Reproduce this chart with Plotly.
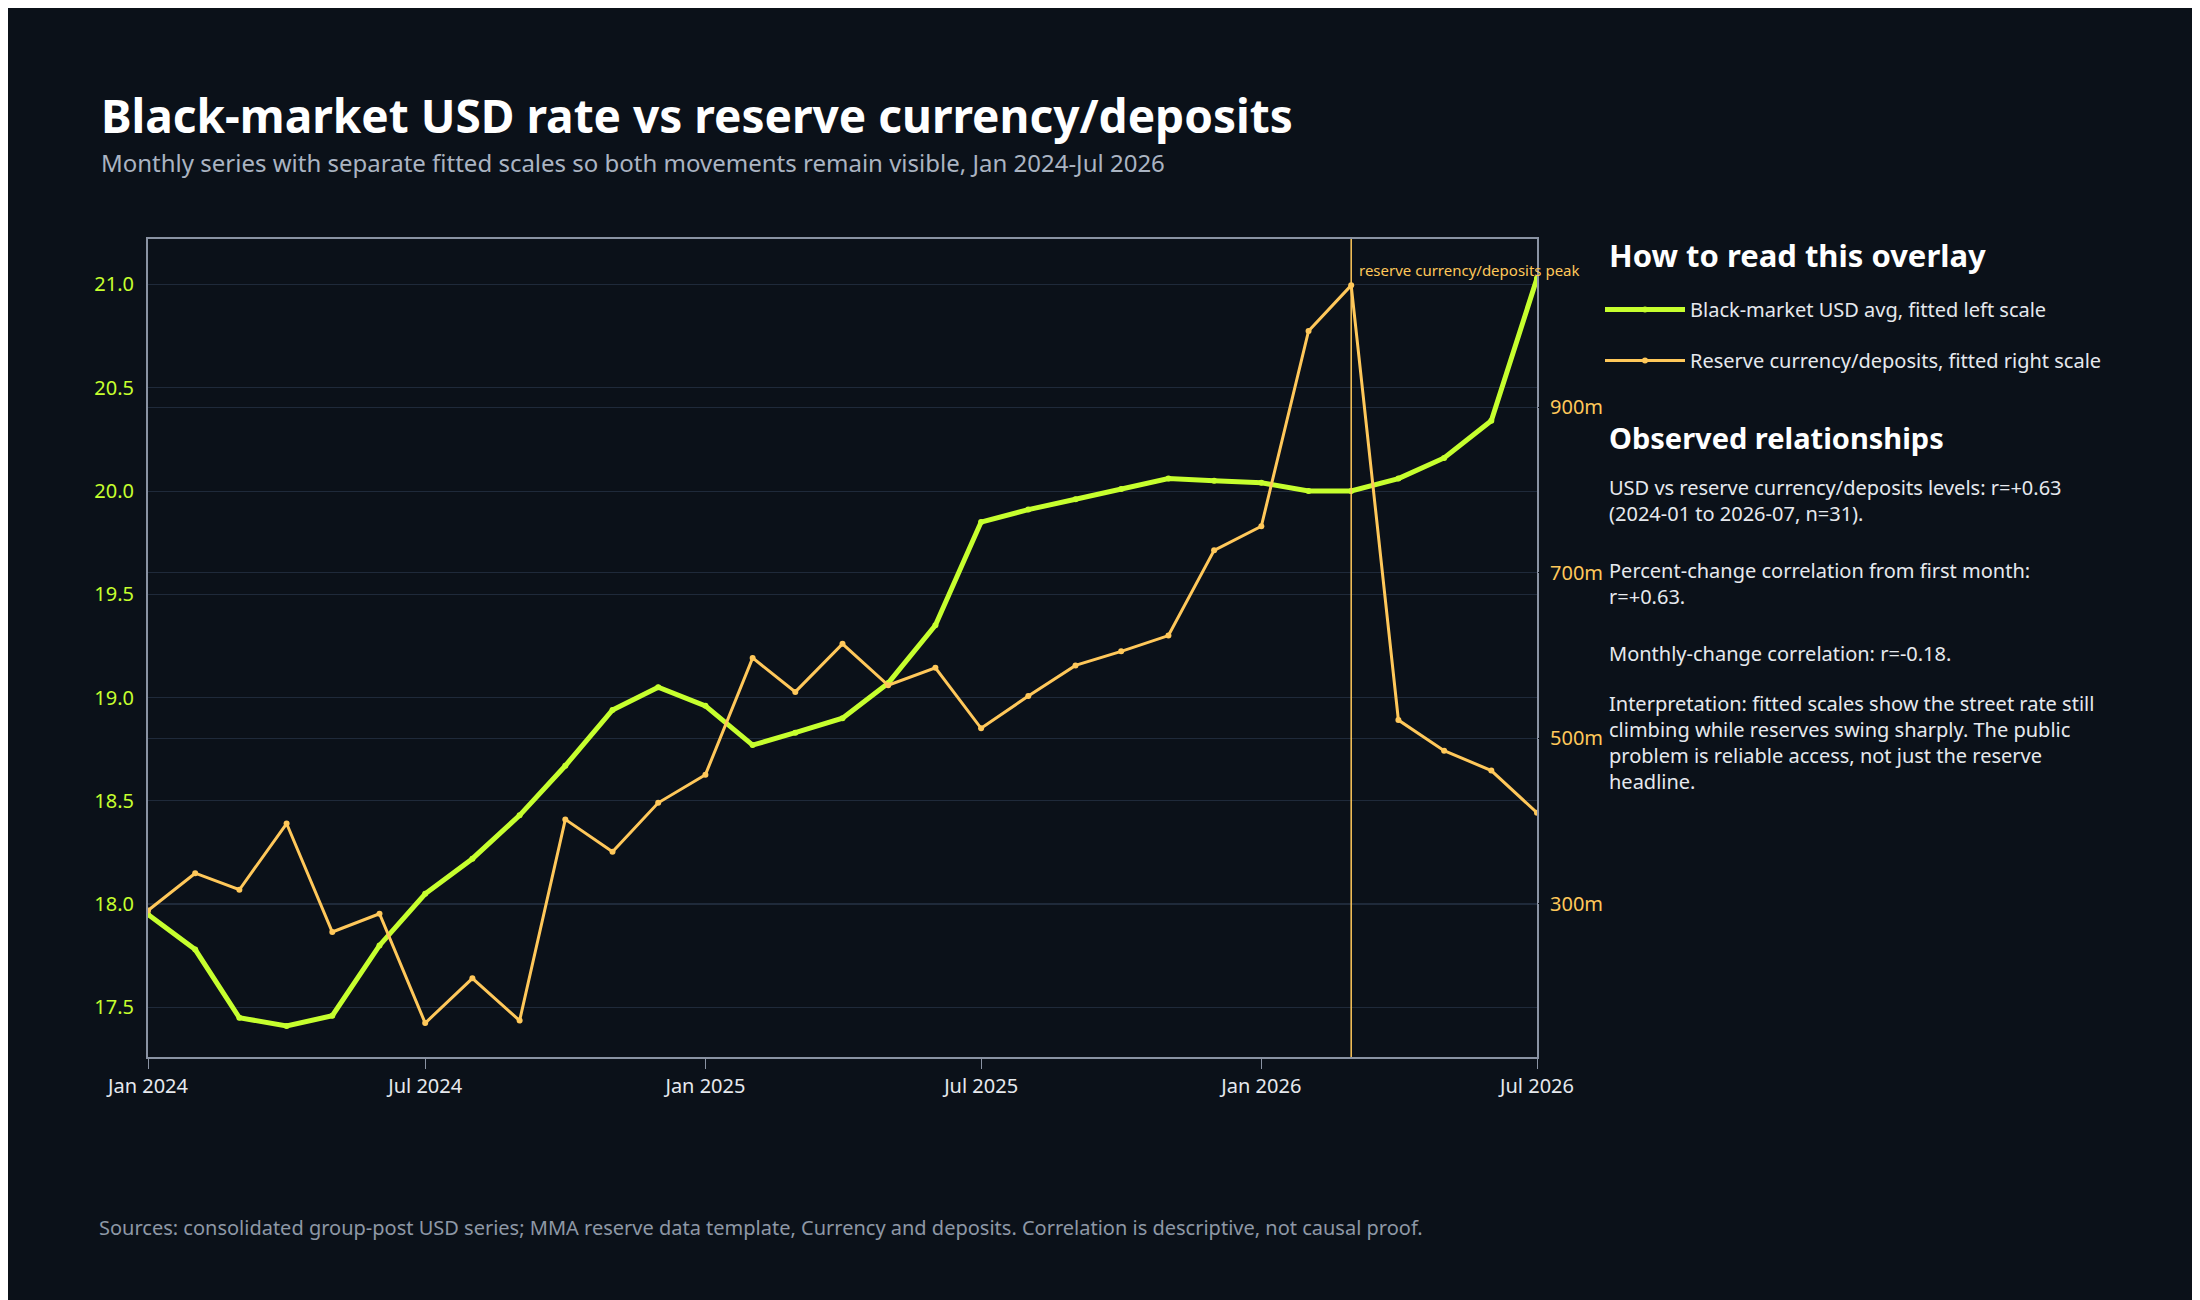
import plotly.graph_objects as go

months = [f"{y}-{m:02d}-01" for y in (2024, 2025, 2026) for m in range(1, 13)][:31]

usd_rate = [17.95, 17.78, 17.45, 17.41, 17.46, 17.80, 18.05, 18.22, 18.43, 18.67, 18.94, 19.05,
            18.96, 18.77, 18.83, 18.90, 19.07, 19.35, 19.85, 19.91, 19.96, 20.01, 20.06, 20.05,
            20.04, 20.00, 20.00, 20.06, 20.16, 20.34, 21.03]
reserves_m = [292, 337, 317, 397, 266, 288, 156, 210, 159, 402, 363, 422,
              456, 597, 556, 614, 564, 585, 512, 551, 588, 605, 624, 727,
              756, 992, 1047, 522, 485, 461, 410]

W, H = 2200, 1300
L, R, T, B = 140, 671, 231, 251
BG = "#0b1119"
GREEN = "#c6ff2e"
ORANGE = "#ffc85a"
TXT = "#e6e9ee"
FONT = "Noto Sans"


def px(x):
    return (x - L) / (W - L - R)


def py(y):
    return (H - B - y) / (H - T - B)


fig = go.Figure()
fig.add_trace(go.Scatter(
    x=months, y=usd_rate, mode="lines+markers", name="Black-market USD avg, fitted left scale",
    legendgroup="a", line=dict(color=GREEN, width=5), marker=dict(size=6, color=GREEN)))
fig.add_trace(go.Scatter(
    x=months, y=[v * 1e6 for v in reserves_m], mode="lines+markers", yaxis="y2",
    name="Reserve currency/deposits, fitted right scale", legendgroup="b",
    line=dict(color=ORANGE, width=3), marker=dict(size=6, color=ORANGE)))

peak = months[reserves_m.index(max(reserves_m))]
fig.add_shape(type="line", x0=peak, x1=peak, y0=0, y1=1, yref="paper",
              line=dict(color=ORANGE, width=1.5))

annotations = [
    dict(x=peak, y=py(262), xref="x", yref="paper", text="reserve currency/deposits peak",
         showarrow=False, xanchor="left", yanchor="middle", xshift=6,
         font=dict(size=15, color=ORANGE)),
    dict(x=px(91), y=py(74), text="<b>Black-market USD rate vs reserve currency/deposits</b>",
         font=dict(size=46, color="#ffffff")),
    dict(x=px(91), y=py(136),
         text="Monthly series with separate fitted scales so both movements remain visible, Jan 2024-Jul 2026",
         font=dict(size=24, color="#aab4c2")),
    dict(x=px(89), y=py(1204),
         text="Sources: consolidated group-post USD series; MMA reserve data template, Currency and deposits. Correlation is descriptive, not causal proof.",
         font=dict(size=20, color="#8e98a6")),
    dict(x=px(1599), y=py(224), text="<b>How to read this overlay</b>", font=dict(size=31, color="#ffffff")),
    dict(x=px(1599), y=py(408), text="<b>Observed relationships</b>", font=dict(size=29, color="#ffffff")),
    dict(x=px(1599), y=py(464),
         text="USD vs reserve currency/deposits levels: r=+0.63<br>(2024-01 to 2026-07, n=31).",
         font=dict(size=20, color=TXT)),
    dict(x=px(1599), y=py(547), text="Percent-change correlation from first month:<br>r=+0.63.",
         font=dict(size=20, color=TXT)),
    dict(x=px(1599), y=py(630), text="Monthly-change correlation: r=-0.18.", font=dict(size=20, color=TXT)),
    dict(x=px(1599), y=py(680),
         text="Interpretation: fitted scales show the street rate still<br>climbing while reserves swing sharply. The public<br>problem is reliable access, not just the reserve<br>headline.",
         font=dict(size=20, color=TXT)),
]
for a in annotations[1:]:
    a.update(xref="paper", yref="paper", showarrow=False, xanchor="left", yanchor="top", align="left")
for a in annotations[6:]:
    a["text"] = a["text"].replace("<br>", "<br>")

fig.update_layout(
    width=W, height=H, paper_bgcolor=BG, plot_bgcolor=BG,
    margin=dict(l=L, r=R, t=T, b=B),
    font=dict(family=FONT, color=TXT, size=20),
    annotations=annotations,
    showlegend=True,
    legend=dict(x=px(1592), y=py(282), xanchor="left", yanchor="top", bgcolor="rgba(0,0,0,0)",
                font=dict(size=20, color=TXT), itemwidth=80, tracegroupgap=22),
    xaxis=dict(range=["2024-01-01", "2026-07-01"], tickvals=months[::6], tickformat="%b %Y",
               showgrid=False, showline=True, linecolor="#8a93a3", mirror=True, linewidth=2,
               ticks="outside", tickcolor="#8a93a3", ticklen=10, tickfont=dict(size=20, color=TXT),
               zeroline=False),
    yaxis=dict(range=[17.26, 21.22], tickvals=[17.5, 18.0, 18.5, 19.0, 19.5, 20.0, 20.5, 21.0],
               tickformat=".1f", gridcolor="#1f2a3a", showline=True, linecolor="#8a93a3", linewidth=2,
               mirror=True, ticks="outside", ticklen=8, tickcolor=BG,
               tickfont=dict(size=20, color=GREEN), zeroline=False),
    yaxis2=dict(range=[115e6, 1103e6], overlaying="y", side="right",
                tickvals=[300e6, 500e6, 700e6, 900e6], ticktext=["300m", "500m", "700m", "900m"],
                gridcolor="#1f2a3a", showline=False, ticks="outside", ticklen=8, tickcolor=BG,
                tickfont=dict(size=20, color=ORANGE), zeroline=False),
)

fig.write_html("out.html")
